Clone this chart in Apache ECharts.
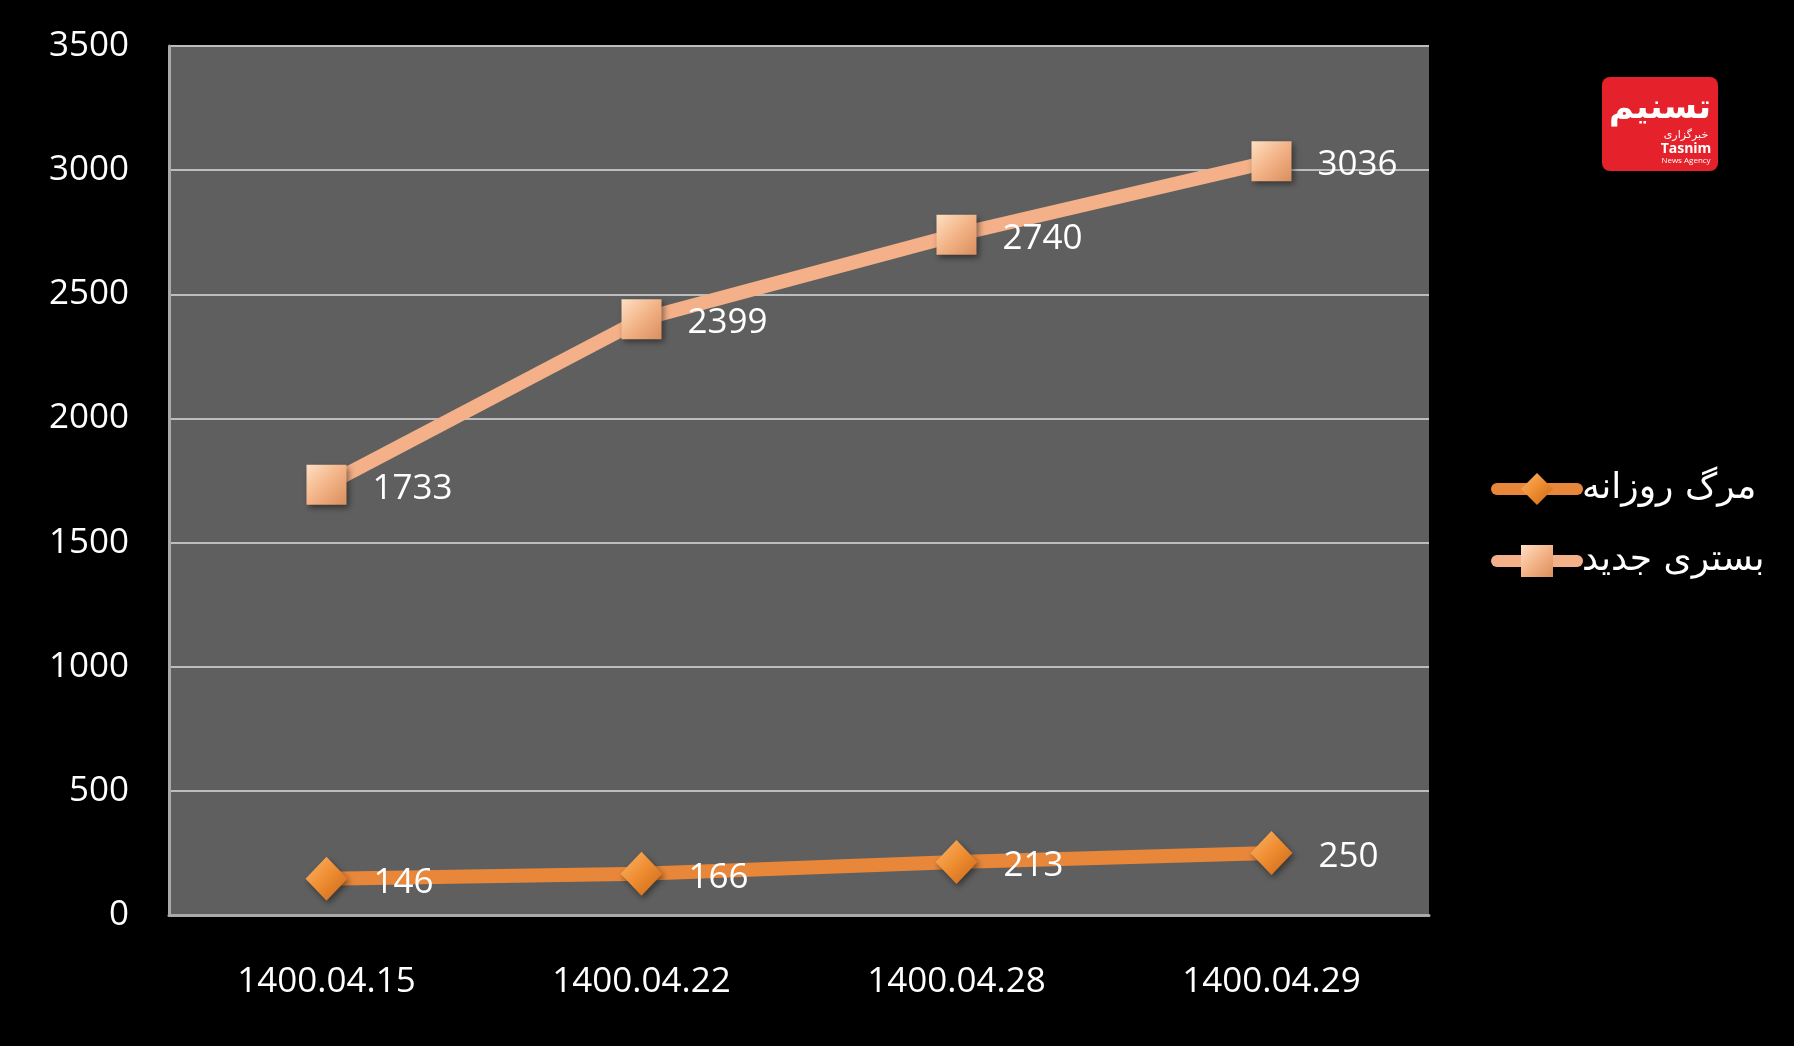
<!DOCTYPE html>
<html>
<head>
<meta charset="utf-8">
<script src="https://cdn.jsdelivr.net/npm/echarts@6/dist/echarts.min.js"></script>
<style>
html,body{margin:0;padding:0;background:#000;}
#c{width:1794px;height:1046px;}
</style>
</head>
<body>
<div id="c"></div>
<script>
const categories = ['1400.04.15', '1400.04.22', '1400.04.28', '1400.04.29'];
const deathName = 'مرگ روزانه';
const hospName = 'بستری جدید';
const deaths = [146, 166, 213, 250];
const hospitalized = [1733, 2399, 2740, 3036];

const chart = echarts.init(document.getElementById('c'));
const FONT = '"Open Sans", "DejaVu Sans", sans-serif';

const diamondColor = new echarts.graphic.LinearGradient(0, 0, 1, 1, [
  {offset: 0, color: '#fbb56a'},
  {offset: 0.5, color: '#ee8c30'},
  {offset: 1, color: '#c9661b'}
]);
const squareColor = new echarts.graphic.LinearGradient(0, 0, 1, 1, [
  {offset: 0, color: '#fde0c4'},
  {offset: 0.5, color: '#f3b386'},
  {offset: 1, color: '#d98e5e'}
]);

chart.setOption({
  backgroundColor: '#000000',
  animation: false,
  grid: {
    left: 169, right: 365, top: 46, bottom: 131,
    show: true, backgroundColor: '#5f5f5f', borderWidth: 0
  },
  legend: {
    orient: 'vertical',
    left: 1491, top: 471, padding: 0,
    itemWidth: 80, itemHeight: 40, itemGap: 36,
    data: [
      {name: deathName, lineStyle: {color: '#e8873a', width: 12, cap: 'round'}},
      {name: hospName, lineStyle: {color: '#f4b088', width: 12, cap: 'round'}}
    ],
    textStyle: {color: '#ffffff', fontSize: 36, fontFamily: '"DejaVu Sans", sans-serif'}
  },
  xAxis: {
    type: 'category',
    data: categories,
    boundaryGap: true,
    axisLine: {lineStyle: {color: '#a9a9a9', width: 3}},
    axisTick: {show: false},
    axisLabel: {color: '#ffffff', fontSize: 35, fontFamily: FONT, margin: 50}
  },
  yAxis: {
    type: 'value',
    min: 0, max: 3500, interval: 500,
    axisLine: {show: true, lineStyle: {color: '#a9a9a9', width: 3}},
    axisTick: {show: false},
    splitLine: {lineStyle: {color: '#bdbdbd', width: 2}},
    axisLabel: {color: '#ffffff', fontSize: 35, fontFamily: FONT, margin: 40, formatter: v => String(v)}
  },
  series: [
    {
      name: deathName,
      type: 'line',
      data: deaths,
      symbol: 'diamond',
      symbolSize: [42, 44],
      lineStyle: {color: '#e8873a', width: 14, cap: 'round'},
      itemStyle: {color: diamondColor, shadowColor: 'rgba(0,0,0,0.45)', shadowBlur: 6, shadowOffsetX: 2, shadowOffsetY: 3},
      label: {show: true, position: 'right', distance: 26, offset: [0, 4], color: '#ffffff', fontSize: 35, fontFamily: FONT},
      z: 3
    },
    {
      name: hospName,
      type: 'line',
      data: hospitalized,
      symbol: 'rect',
      symbolSize: 40,
      lineStyle: {color: '#f4b088', width: 14, cap: 'round'},
      itemStyle: {color: squareColor, shadowColor: 'rgba(0,0,0,0.45)', shadowBlur: 6, shadowOffsetX: 2, shadowOffsetY: 3},
      label: {show: true, position: 'right', distance: 26, offset: [0, 4], color: '#ffffff', fontSize: 35, fontFamily: FONT},
      z: 3
    }
  ],
  graphic: [
    {
      type: 'group', x: 1602, y: 77,
      children: [
        {type: 'rect', shape: {x: 0, y: 0, width: 116, height: 94, r: 8}, style: {fill: '#e5222b'}},
        {type: 'text', style: {text: 'تسنیم', x: 58, y: 32, fill: '#ffffff', font: 'bold 34px "DejaVu Sans"', align: 'center', verticalAlign: 'middle'}},
        {type: 'text', style: {text: 'خبرگزاری', x: 84, y: 58, fill: '#ffffff', font: '11px "DejaVu Sans"', align: 'center', verticalAlign: 'middle'}},
        {type: 'text', style: {text: 'Tasnim', x: 84, y: 72, fill: '#ffffff', font: 'bold 14px "Open Sans"', align: 'center', verticalAlign: 'middle'}},
        {type: 'text', style: {text: 'News Agency', x: 84, y: 84, fill: '#ffffff', font: '8px "Open Sans"', align: 'center', verticalAlign: 'middle'}}
      ]
    }
  ]
});
</script>
</body>
</html>
